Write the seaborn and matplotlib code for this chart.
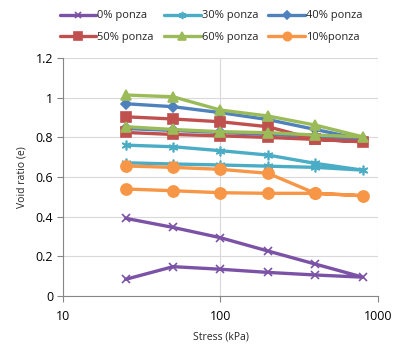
import matplotlib
matplotlib.use("Agg")
import matplotlib.pyplot as plt
import seaborn as sns
import pandas as pd
import numpy as np
from matplotlib.ticker import FuncFormatter, FixedLocator, NullLocator

# Loading then unloading path (kPa)
stress = [25, 50, 100, 200, 400, 800, 400, 200, 100, 50, 25]

e_0 = [0.392, 0.346, 0.294, 0.227, 0.161, 0.095, 0.106, 0.119, 0.135, 0.148, 0.084]
e_30 = [0.761, 0.753, 0.733, 0.711, 0.669, 0.635, 0.649, 0.655, 0.661, 0.666, 0.672]
e_40 = [0.970, 0.955, 0.925, 0.890, 0.840, 0.790, 0.805, 0.815, 0.825, 0.835, 0.845]
e_50 = [0.904, 0.893, 0.879, 0.854, 0.790, 0.778, 0.790, 0.800, 0.808, 0.815, 0.825]
e_60 = [1.014, 1.005, 0.938, 0.908, 0.862, 0.803, 0.812, 0.824, 0.829, 0.840, 0.854]
e_10 = [0.656, 0.649, 0.639, 0.619, 0.518, 0.506, 0.518, 0.518, 0.521, 0.531, 0.540]

labels = ["0% ponza", "30% ponza", "40% ponza", "50% ponza", "60% ponza", "10%ponza"]
series = [e_0, e_30, e_40, e_50, e_60, e_10]
colors = ["#7B52A6", "#4BACC6", "#4F81BD", "#C0504D", "#9BBB59", "#F79646"]
markers = ["x", (6, 2, 0), "D", "s", "^", "o"]
msizes = [6, 7, 5, 7, 7, 8]

sns.set_theme(style="white")
plt.rcParams["font.family"] = ["Open Sans", "DejaVu Sans"]

fig = plt.figure(figsize=(3.98, 3.46), dpi=100)
ax = fig.add_axes([0.158, 0.1445, 0.792, 0.6875])

for lab, vals, c, m, ms in zip(labels, series, colors, markers, msizes):
    df = pd.DataFrame({"Stress": stress, "e": vals})
    sns.lineplot(data=df, x="Stress", y="e", sort=False, estimator=None,
                 color=c, marker=m, markersize=ms, linewidth=2.4,
                 markeredgecolor=c, markeredgewidth=1.2, label=lab, ax=ax)

ax.set_xscale("log")
ax.set_xlim(10, 1000)
ax.set_ylim(0, 1.2)
ax.xaxis.set_major_locator(FixedLocator([10, 100, 1000]))
ax.xaxis.set_minor_locator(NullLocator())
ax.xaxis.set_major_formatter(FuncFormatter(lambda v, p: f"{int(v)}"))
ax.set_yticks(np.arange(0, 1.21, 0.2))
ax.yaxis.set_major_formatter(FuncFormatter(lambda v, p: f"{v:.1f}".rstrip("0").rstrip(".") if v else "0"))

ax.grid(True, color="#d9d9d9", linewidth=0.8)
ax.set_axisbelow(True)
for s in ["top", "right"]:
    ax.spines[s].set_visible(False)
for s in ["left", "bottom"]:
    ax.spines[s].set_color("#868686")
    ax.spines[s].set_linewidth(0.8)
ax.tick_params(axis="both", length=4, width=0.8, color="#868686",
               labelsize=9, colors="#000000", direction="out", pad=3)
ax.tick_params(axis="x", pad=6)
ax.xaxis.set_ticks_position("bottom")
ax.yaxis.set_ticks_position("left")

ax.set_xlabel("Stress (kPa)", fontsize=7.5, labelpad=6)
ax.set_ylabel("Void ratio (e)", fontsize=7.5, labelpad=6)

# Row-wise legend order for a 3-column, 2-row layout
handles, labs = ax.get_legend_handles_labels()
order = [0, 3, 1, 4, 2, 5]
ax.legend([handles[i] for i in order], [labs[i] for i in order],
          loc="lower center", bbox_to_anchor=(0.47, 1.045), ncol=3, frameon=False,
          fontsize=8, handlelength=3.3, handletextpad=0.1, columnspacing=0.9,
          labelspacing=0.95, borderaxespad=0, markerscale=0.75)

fig.savefig("out.png", dpi=100)
